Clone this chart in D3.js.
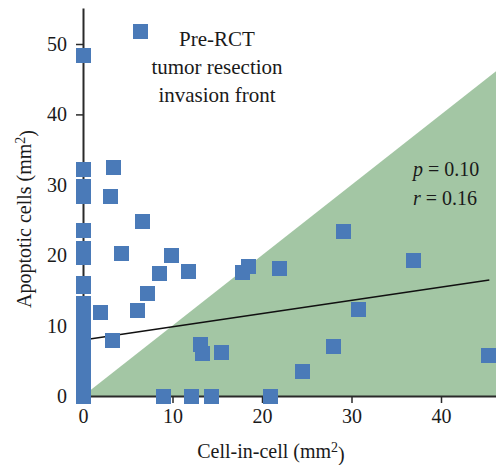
<!DOCTYPE html>
<html>
<head>
<meta charset="utf-8">
<script src="https://cdn.jsdelivr.net/npm/d3@7"></script>
<style>
  html, body { margin: 0; padding: 0; background: #fff; }
  svg text { font-family: "Liberation Serif", "Times New Roman", serif; fill: #1a1a1a; }
</style>
</head>
<body>
<svg id="chart" width="496" height="465"></svg>
<script>
// Cell-in-cell density (mm^2) vs apoptotic cell density (mm^2), one square per patient
const cellInCell = [
  0, 0, 0, 0, 0, 0, 0, 0, 0, 0, 0, 0, 0, 0, 0, 0, 0, 0, 0,
  6.37, 3.39, 3.05, 6.63, 4.32, 9.9, 11.77, 8.53, 7.19, 6.07, 1.94, 3.28,
  13.1, 13.4, 15.5, 9.0, 12.1, 14.4, 17.77, 18.5, 21.9, 29.1, 36.9, 30.8,
  27.97, 24.5, 20.9, 45.3
];
const apoptotic = [
  48.4, 32.2, 29.8, 28.4, 23.5, 21.0, 19.7, 16.0, 15.5, 13.2, 11.6, 10.0, 8.4, 6.8, 5.2, 3.6, 2.0, 0.6, 0,
  51.8, 32.5, 28.4, 24.8, 20.3, 19.9, 17.75, 17.4, 14.6, 12.2, 11.8, 7.95,
  7.3, 5.97, 6.2, 0, 0, 0, 17.6, 18.4, 18.1, 23.4, 19.3, 12.3,
  7.06, 3.5, 0, 5.7
];

// Linear fit drawn across the observed x range
const fitIntercept = 7.95;
const fitSlope = 0.188;
const fitRange = [0, 45.4];

const xTicks = [0, 10, 20, 30, 40];
const yTicks = [0, 10, 20, 30, 40, 50];
const xMax = 46.15;
const yMax = 55.1;

const titleLines = ["Pre-RCT", "tumor resection", "invasion front"];
const statLines = [["p", " = 0.10"], ["r", " = 0.16"]];

const svg = d3.select("#chart");

const x = d3.scaleLinear().domain([0, xMax]).range([83, 83 + xMax * 8.95]);
const y = d3.scaleLinear().domain([0, yMax]).range([396, 396 - yMax * 7.04]);

// Shaded region where cell-in-cell exceeds apoptotic cells (below y = x)
const tri = [[0, 0], [xMax, 0], [xMax, xMax]];
svg.append("path")
  .attr("d", d3.line().x(d => x(d[0])).y(d => y(d[1]))(tri) + "Z")
  .attr("fill", "#a3c6a4");

// Regression line
svg.append("line")
  .attr("x1", x(fitRange[0])).attr("y1", y(fitIntercept + fitSlope * fitRange[0]))
  .attr("x2", x(fitRange[1])).attr("y2", y(fitIntercept + fitSlope * fitRange[1]))
  .attr("stroke", "#111").attr("stroke-width", 1.5);

// Axes
const xAxis = svg.append("g")
  .attr("transform", `translate(0,${y(0)})`)
  .call(d3.axisBottom(x).tickValues(xTicks).tickSize(7).tickSizeOuter(0).tickPadding(6));
const yAxis = svg.append("g")
  .attr("transform", `translate(${x(0)},0)`)
  .call(d3.axisLeft(y).tickValues(yTicks).tickSize(7).tickSizeOuter(0).tickPadding(9));

[xAxis, yAxis].forEach(g => {
  g.select(".domain").attr("stroke", "#2a2a2a").attr("stroke-width", 2);
  g.selectAll(".tick line").attr("stroke", "#2a2a2a").attr("stroke-width", 1.5);
  g.selectAll(".tick text").attr("font-size", 20).attr("fill", "#1a1a1a")
    .attr("font-family", "'Liberation Serif', serif");
});

// Data points
const sq = 15;
svg.append("g").selectAll("rect")
  .data(d3.range(cellInCell.length))
  .join("rect")
  .attr("x", i => x(cellInCell[i]) - sq / 2)
  .attr("y", i => y(apoptotic[i]) - sq / 2)
  .attr("width", sq).attr("height", sq)
  .attr("shape-rendering", "crispEdges")
  .attr("fill", "#4a7ab8");

// Title block
svg.append("g").selectAll("text")
  .data(titleLines)
  .join("text")
  .attr("x", 217).attr("y", (d, i) => 46 + i * 28)
  .attr("text-anchor", "middle")
  .attr("font-size", 21)
  .text(d => d);

// Statistics
const stats = svg.append("g").selectAll("text")
  .data(statLines)
  .join("text")
  .attr("x", 413).attr("y", (d, i) => 176 + i * 29)
  .attr("font-size", 20);
stats.append("tspan").attr("font-style", "italic").text(d => d[0]);
stats.append("tspan").text(d => d[1]);

// Axis titles with superscript units
function unitLabel(sel, base) {
  sel.append("tspan").text(base + " (mm");
  sel.append("tspan").attr("dy", "-0.45em").attr("font-size", "0.7em").text("2");
  sel.append("tspan").attr("dy", "0.45em").text(")");
}

const xLabel = svg.append("text")
  .attr("x", 271).attr("y", 458)
  .attr("text-anchor", "middle").attr("font-size", 20);
unitLabel(xLabel, "Cell-in-cell");

const yLabel = svg.append("text")
  .attr("transform", "translate(31,219) rotate(-90)")
  .attr("text-anchor", "middle").attr("font-size", 20);
unitLabel(yLabel, "Apoptotic cells");
</script>
</body>
</html>
